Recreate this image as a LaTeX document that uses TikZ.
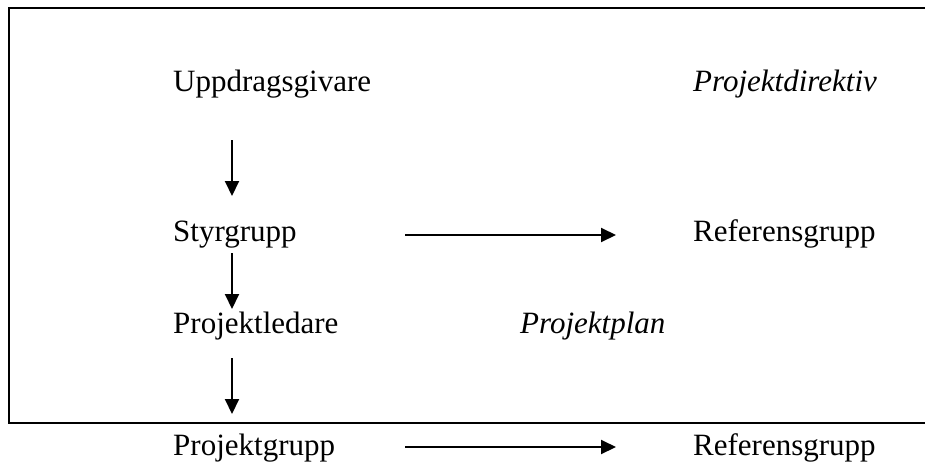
\documentclass[tikz,border=0pt]{standalone}
\usepackage{fontspec}
\setmainfont{Liberation Serif}
\usetikzlibrary{arrows.meta}
\begin{document}
\begin{tikzpicture}[x=1pt,y=-1pt,
  lbl/.style={anchor=base west,inner sep=0pt,font=\fontsize{31}{37}\selectfont},
  ilbl/.style={lbl,font=\fontsize{31}{37}\selectfont\itshape},
  arr/.style={line width=2pt,-{Triangle[length=15pt,width=14pt]}},
  frame/.style={line width=2pt}]
\useasboundingbox (0,0) rectangle (925,466);
\draw[frame] (935,8) -- (8.5,8) -- (8.5,423) -- (935,423);
\node[lbl] (u) at (173,91) {Uppdragsgivare};
\node[ilbl] (pd) at (693,91) {Projektdirektiv};
\node[lbl] (s) at (173,241) {Styrgrupp};
\node[lbl] (r1) at (693,241) {Referensgrupp};
\node[lbl] (pl) at (173,333) {Projektledare};
\node[ilbl] (pp) at (520,333) {Projektplan};
\node[lbl] (pg) at (173,455) {Projektgrupp};
\node[lbl] (r2) at (693,455) {Referensgrupp};
\coordinate (a1s) at (232,140); \coordinate (a1e) at (232,196);
\coordinate (a2s) at (232,253); \coordinate (a2e) at (232,309);
\coordinate (a3s) at (232,358); \coordinate (a3e) at (232,414);
\coordinate (h1s) at (405,235); \coordinate (h1e) at (616,235);
\coordinate (h2s) at (405,447); \coordinate (h2e) at (616,447);
\draw[arr] (a1s) -- (a1e);
\draw[arr] (a2s) -- (a2e);
\draw[arr] (a3s) -- (a3e);
\draw[arr] (h1s) -- (h1e);
\draw[arr] (h2s) -- (h2e);
\end{tikzpicture}
\end{document}
